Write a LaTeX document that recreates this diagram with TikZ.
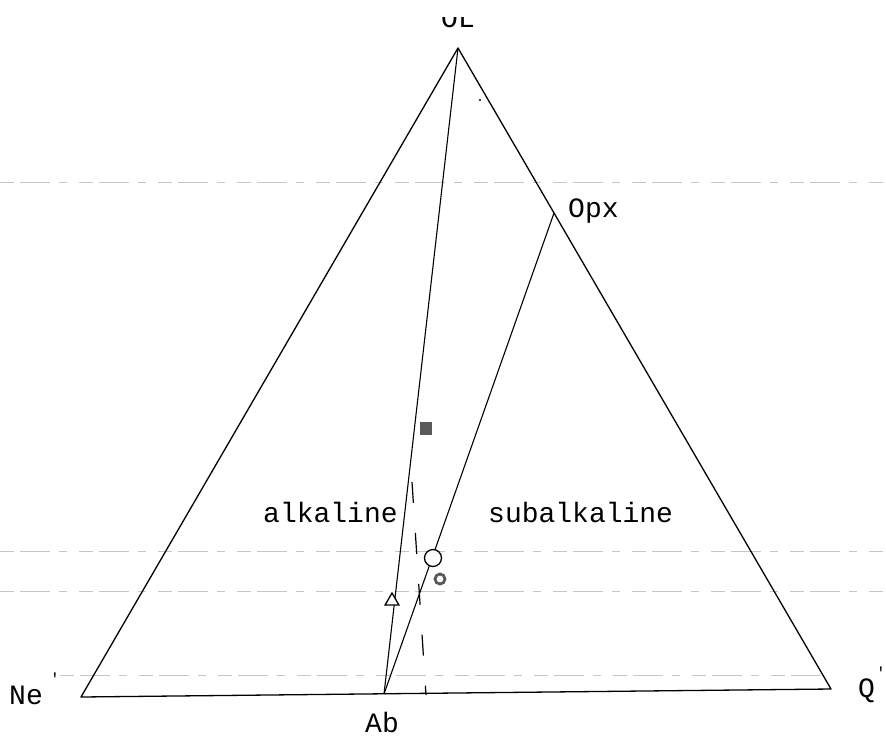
\documentclass[tikz,border=0pt]{standalone}
\usepackage{fontspec}
\setmonofont{Liberation Mono}
\usetikzlibrary{shapes.geometric,calc}
\begin{document}
\begin{tikzpicture}[x=1pt,y=-1pt,
  edge/.style={line width=1.3pt, line join=round},
  lbl/.style={font=\ttfamily\fontsize{28}{28}\selectfont, inner sep=0pt},
  noise/.style={gray!45, line width=0.8pt, dash pattern=on 14pt off 6pt on 30pt off 9pt on 8pt off 12pt},
  dashln/.style={line width=1.2pt, dash pattern=on 21pt off 30pt}]
\useasboundingbox[fill=white] (0,0) rectangle (886,740);
% scan noise lines
\draw[noise] (0,182) -- (886,182);
\draw[noise] (0,551) -- (886,551);
\draw[noise] (0,591) -- (886,591);
\draw[noise] (60,675) -- (820,675);
% corners
\coordinate (ol) at (458,48);
\coordinate (ne) at (81,697);
\coordinate (q) at (831,689);
\coordinate (ab) at (384,694);
\coordinate (opx) at ($(ol)!0.2574!(q)$);
\coordinate (d1) at (412,482);
\coordinate (d2) at (426,695);
% triangle
\draw[edge] (ol) -- (ne) -- (q) -- cycle;
\draw[edge, line width=1.1pt] (ol) -- (ab);
\draw[edge, line width=1.1pt] (opx) -- (ab);
\draw[dashln] (d1) -- (d2);
% labels
\begin{scope}
\clip (400,17) rectangle (520,30);
\node[lbl, anchor=base] (olab) at (458,27) {OL};
\end{scope}
\node[lbl, anchor=base west] (opxlab) at (568,217) {Opx};
\node[lbl, anchor=base west] (nelab) at (9,704) {Ne};
\node[lbl, anchor=base west] (neprime) at (50,684) {\fontsize{16}{16}\selectfont'};
\node[lbl, anchor=base west] (qlab) at (858,697) {Q};
\node[lbl, anchor=base west] (qprime) at (876,678) {\fontsize{16}{16}\selectfont'};
\node[lbl, anchor=base] (ablab) at (382,732) {Ab};
\node[lbl, anchor=base west] (alk) at (263,522) {alkaline};
\node[lbl, anchor=base west] (sub) at (488,522) {subalkaline};
% symbols
\node[fill=gray!70!black, minimum width=12pt, minimum height=13pt, inner sep=0pt] (sq) at (426,428) {};
\node[draw, fill=white, circle, line width=1.3pt, minimum size=17pt, inner sep=0pt] (circ) at (433,558) {};
\node[draw=gray!70!black, fill=white, circle, line width=2.8pt, minimum size=10pt, inner sep=0pt] (dot) at (440,579) {};
\node[draw, fill=white, isosceles triangle, isosceles triangle apex angle=60, shape border rotate=90, line width=1.3pt, minimum height=12pt, inner sep=0pt] (tri) at (392,601) {};
% small speck
\fill (480,100) circle (1.1pt);
\end{tikzpicture}
\end{document}
